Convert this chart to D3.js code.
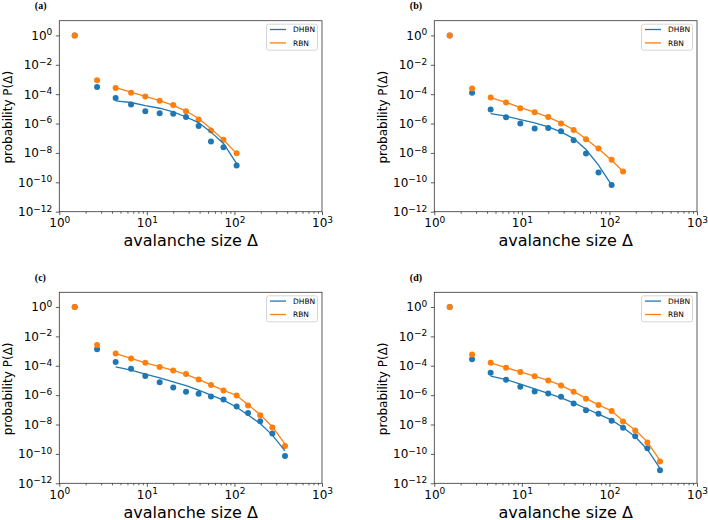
<!DOCTYPE html>
<html>
<head>
<meta charset="utf-8">
<script src="https://cdn.jsdelivr.net/npm/d3@7"></script>
<style>
  body { margin: 0; background: #fff; }
  svg { display: block; }
  text { font-family: "DejaVu Sans", sans-serif; }
</style>
</head>
<body>
<div id="chart"></div>
<script>
// avalanche sizes (x positions of the bins)
const sizes = [1.5, 2.7, 4.4, 6.6, 9.6, 14, 20, 28, 39, 54, 75, 106, 143, 197, 271, 378];
const fitStart = 2; // fits start at the third bin

// (a)
const dhbnA = [1, 3.1e-4, 5.5e-5, 2.0e-5, 6.9e-6, 5.0e-6, 4.6e-6, 2.8e-6, 6.9e-7, 6.0e-8, 2.45e-8, 1.38e-9];
const rbnA = [1, 8.7e-4, 2.6e-4, 1.26e-4, 6.8e-5, 3.6e-5, 1.86e-5, 6.9e-6, 1.86e-6, 3.3e-7, 7.8e-8, 9.5e-9];
const dhbnFitA = [3.5e-5, 2.7e-5, 1.66e-5, 1.1e-5, 6.2e-6, 2.8e-6, 1.17e-6, 2.6e-7, 4.4e-8, 1.9e-9];
const rbnFitA = [2.8e-4, 1.38e-4, 7.1e-5, 3.6e-5, 1.7e-5, 7.1e-6, 2.2e-6, 4.5e-7, 7.6e-8, 8.9e-9];

// (b)
const dhbnB = [1, 1.23e-4, 8.9e-6, 2.7e-6, 1.0e-6, 4.6e-7, 5.0e-7, 3.0e-7, 7.4e-8, 9.1e-9, 4.7e-10, 6.5e-11];
const rbnB = [1, 2.4e-4, 5.9e-5, 2.7e-5, 1.1e-5, 5.9e-6, 2.8e-6, 1.0e-6, 3.7e-7, 8.5e-8, 2.0e-8, 3.4e-9, 5.5e-10];
const dhbnFitB = [4.8e-6, 3.2e-6, 1.86e-6, 1.1e-6, 5.9e-7, 2.7e-7, 9.5e-8, 1.7e-8, 1.48e-9, 6.5e-11];
const rbnFitB = [5.9e-5, 2.8e-5, 1.2e-5, 5.9e-6, 2.75e-6, 1.1e-6, 3.8e-7, 8.9e-8, 1.9e-8, 3.2e-9, 5.5e-10];

// (c)
const dhbnC = [1, 1.32e-3, 1.8e-4, 6.2e-5, 2.0e-5, 7.6e-6, 3.3e-6, 1.7e-6, 1.23e-6, 8.1e-7, 5.0e-7, 1.7e-7, 6.0e-8, 1.7e-8, 2.45e-9, 7.1e-11];
const rbnC = [1, 2.6e-3, 6.8e-4, 3.1e-4, 1.6e-4, 8.3e-5, 4.8e-5, 2.7e-5, 1.15e-5, 5.0e-6, 2.1e-6, 9.5e-7, 2.0e-7, 4.2e-8, 6.3e-9, 3.4e-10];
const dhbnFitC = [8.3e-5, 5.0e-5, 2.7e-5, 1.5e-5, 8.1e-6, 4.4e-6, 2.2e-6, 1.0e-6, 4.6e-7, 1.5e-7, 4.4e-8, 1.17e-8, 1.9e-9, 1.6e-10];
const rbnFitC = [6.8e-4, 3.2e-4, 1.6e-4, 8.7e-5, 4.9e-5, 2.6e-5, 1.17e-5, 5.0e-6, 2.1e-6, 9.5e-7, 2.2e-7, 4.7e-8, 7.1e-9, 4.7e-10];

// (d)
const dhbnD = [1, 2.75e-4, 3.3e-5, 1.1e-5, 3.7e-6, 1.8e-6, 1.3e-6, 7.8e-7, 2.7e-7, 9.5e-8, 5.4e-8, 1.8e-8, 6.0e-9, 1.6e-9, 2.4e-10, 7.6e-12];
const rbnD = [1, 5.8e-4, 1.6e-4, 7.2e-5, 3.8e-5, 1.95e-5, 1.0e-5, 4.6e-6, 1.7e-6, 5.6e-7, 2.1e-7, 8.5e-8, 1.6e-8, 4.0e-9, 6.0e-10, 3.0e-11];
const dhbnFitD = [1.95e-5, 1.15e-5, 5.6e-6, 2.7e-6, 1.3e-6, 6.6e-7, 3.0e-7, 1.23e-7, 5.1e-8, 2.0e-8, 6.3e-9, 1.48e-9, 2.0e-10, 1.05e-11];
const rbnFitD = [1.6e-4, 7.4e-5, 3.8e-5, 1.95e-5, 1.0e-5, 4.6e-6, 1.74e-6, 6.0e-7, 2.2e-7, 8.3e-8, 1.74e-8, 4.2e-9, 6.6e-10, 3.5e-11];

const seriesNames = ['DHBN', 'RBN'];
const xTicks = [1, 10, 100, 1000];
const yTicks = [1e-12, 1e-10, 1e-8, 1e-6, 1e-4, 1e-2, 1];

const colors = { DHBN: '#1f77b4', RBN: '#ff7f0e' };

const W = 708, H = 520;
const pw = 262.7, ph = 191;

const panels = [
  { label: '(a)', left: 59.3, top: 20.7, dhbn: dhbnA, rbn: rbnA, dhbnFit: dhbnFitA, rbnFit: rbnFitA },
  { label: '(b)', left: 434.3, top: 20.7, dhbn: dhbnB, rbn: rbnB, dhbnFit: dhbnFitB, rbnFit: rbnFitB },
  { label: '(c)', left: 59.3, top: 292.3, dhbn: dhbnC, rbn: rbnC, dhbnFit: dhbnFitC, rbnFit: rbnFitC },
  { label: '(d)', left: 434.3, top: 292.3, dhbn: dhbnD, rbn: rbnD, dhbnFit: dhbnFitD, rbnFit: rbnFitD }
];

const svg = d3.select('#chart').append('svg')
  .attr('width', W)
  .attr('height', H);

svg.append('rect').attr('width', W).attr('height', H).attr('fill', '#fff');

const x = d3.scaleLog().domain([1, 1000]).range([0, pw]);
const y = d3.scaleLog().domain([1e-12, 10]).range([ph, 0]);

// minor ticks 2..9 in each decade
const xMinor = [];
[1, 10, 100].forEach(d => { for (let k = 2; k <= 9; k++) xMinor.push(d * k); });

// write "10" with a superscript exponent
function powLabel(sel) {
  sel.each(function(d) {
    const e = Math.round(Math.log10(d));
    const t = d3.select(this).text(null);
    t.append('tspan').text('10');
    t.append('tspan')
      .attr('dy', '-0.5em')
      .attr('font-size', '9px')
      .text(String(e).replace('-', '\u2212'));
  });
}

const line = d3.line()
  .x(d => x(d[0]))
  .y(d => y(d[1]));

panels.forEach(p => {
  const g = svg.append('g').attr('transform', `translate(${p.left},${p.top})`);

  // panel label
  svg.append('text')
    .attr('x', p.left - 24.5)
    .attr('y', p.top - 11.5)
    .attr('font-weight', 'bold')
    .attr('font-size', '10px')
    .style('font-family', '"Liberation Serif", serif')
    .text(p.label);

  // x axis
  const gx = g.append('g').attr('transform', `translate(0,${ph})`);
  gx.call(d3.axisBottom(x).tickValues(xMinor).tickSize(2).tickFormat(''));
  gx.append('g').call(d3.axisBottom(x).tickValues(xTicks).tickSize(3.5).tickPadding(3.5))
    .selectAll('.tick text').attr('font-size', '12px').call(powLabel);
  gx.selectAll('.domain').remove();
  gx.selectAll('text').attr('font-family', null).attr('fill', '#000');
  gx.selectAll('line').attr('stroke', '#333').attr('stroke-width', 0.8);

  // y axis
  const gy = g.append('g');
  gy.call(d3.axisLeft(y).tickValues(yTicks).tickSize(3.5).tickPadding(3.5))
    .selectAll('.tick text').attr('font-size', '12px').call(powLabel);
  gy.selectAll('.domain').remove();
  gy.selectAll('text').attr('font-family', null).attr('fill', '#000');
  gy.selectAll('line').attr('stroke', '#333').attr('stroke-width', 0.8);

  // axis titles
  g.append('text')
    .attr('x', pw / 2)
    .attr('y', ph + 34.5)
    .attr('text-anchor', 'middle')
    .attr('font-size', '16px')
    .text('avalanche size \u0394');

  g.append('text')
    .attr('transform', `translate(-47.8,${ph / 2 + 1}) rotate(-90)`)
    .attr('text-anchor', 'middle')
    .attr('font-size', '12px')
    .text('probability P(\u0394)');

  // points
  const ptsD = p.dhbn.map((v, i) => [sizes[i], v]);
  const ptsR = p.rbn.map((v, i) => [sizes[i], v]);
  const fitD = p.dhbnFit.map((v, i) => [sizes[i + fitStart], v]);
  const fitR = p.rbnFit.map((v, i) => [sizes[i + fitStart], v]);

  [[ptsD, colors.DHBN], [ptsR, colors.RBN]].forEach(([pts, c]) => {
    g.append('g').selectAll('circle')
      .data(pts)
      .join('circle')
      .attr('cx', d => x(d[0]))
      .attr('cy', d => y(d[1]))
      .attr('r', 3)
      .attr('fill', c);
  });

  [[fitD, colors.DHBN], [fitR, colors.RBN]].forEach(([pts, c]) => {
    g.append('path')
      .attr('d', line(pts))
      .attr('fill', 'none')
      .attr('stroke', c)
      .attr('stroke-width', 1.3);
  });

  // frame
  g.append('rect')
    .attr('width', pw)
    .attr('height', ph)
    .attr('fill', 'none')
    .attr('stroke', '#333')
    .attr('stroke-width', 0.8);

  // legend
  const lg = g.append('g').attr('transform', `translate(${pw - 55.5},3.5)`);
  lg.append('rect')
    .attr('width', 51)
    .attr('height', 26)
    .attr('rx', 2)
    .attr('fill', '#fff')
    .attr('fill-opacity', 0.8)
    .attr('stroke', '#ccc')
    .attr('stroke-width', 0.8);
  seriesNames.forEach((name, i) => {
    const ly = 5.3 + i * 13.4;
    lg.append('line')
      .attr('x1', 3.5).attr('x2', 19.5)
      .attr('y1', ly).attr('y2', ly)
      .attr('stroke', colors[name])
      .attr('stroke-width', 1.3);
    lg.append('text')
      .attr('x', 26.5)
      .attr('y', ly)
      .attr('dy', '0.35em')
      .attr('font-size', '7.5px')
      .text(name);
  });
});
</script>
</body>
</html>
